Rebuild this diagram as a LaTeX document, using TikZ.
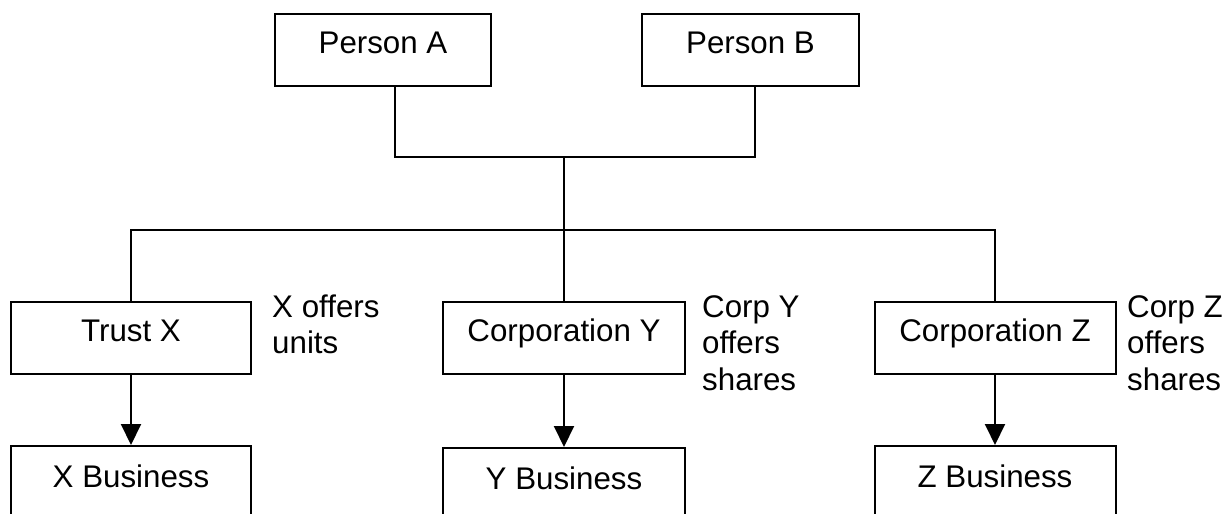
\documentclass[tikz,border=0pt]{standalone}
\usepackage{fontspec}
\setmainfont[Ligatures=NoCommon]{Liberation Sans}
\usetikzlibrary{arrows.meta}
\tikzset{
  box/.style={draw, line width=2pt, inner sep=0pt, minimum height=72pt,
    text height=39pt, text depth=33pt, font=\fontsize{31.3}{36}\selectfont},
  lowbox/.style={box, text height=41pt, text depth=31pt},
  note/.style={anchor=base west, inner sep=0pt, align=left,
    font=\fontsize{31.3}{36.5}\selectfont},
  link/.style={line width=2pt},
  arr/.style={line width=2pt, -{Triangle[length=21pt,width=20pt]}},
}
\begin{document}
\begin{tikzpicture}[x=1pt,y=-1pt]
\clip (0,0) rectangle (1232,514);
\fill[white] (0,0) rectangle (1232,514);
\node[box, minimum width=216pt] (pa) at (383,50) {Person A};
\node[box, minimum width=217pt] (pb) at (750.5,50) {Person B};
\node[box, minimum width=240pt] (tx) at (131,338) {Trust X};
\node[box, minimum width=242pt] (cy) at (564,338) {Corporation Y};
\node[box, minimum width=241pt] (cz) at (995,338) {Corporation Z};
\node[lowbox, minimum width=240pt] (xb) at (131,482) {X Business};
\node[lowbox, minimum width=242pt] (yb) at (564,484) {Y Business};
\node[lowbox, minimum width=241pt] (zb) at (995,482) {Z Business};
\node[note] (nx) at (272,353.5) {X offers\\units};
\node[note] (ny) at (702,390) {Corp Y\\offers\\shares};
\node[note] (nz) at (1127,390) {Corp Z\\offers\\shares};
\coordinate (j1) at (564,157);
\coordinate (j2) at (564,230);
\draw[link] ([xshift=12pt]pa.south) |- (j1) -| ([xshift=4.5pt]pb.south);
\draw[link] (j1) -- (j2);
\draw[link] (tx.north) |- (j2) -| (cz.north);
\draw[link] (j2) -- (cy.north);
\draw[arr] (tx) -- (xb);
\draw[arr] (cy) -- (yb);
\draw[arr] (cz) -- (zb);
\end{tikzpicture}
\end{document}
